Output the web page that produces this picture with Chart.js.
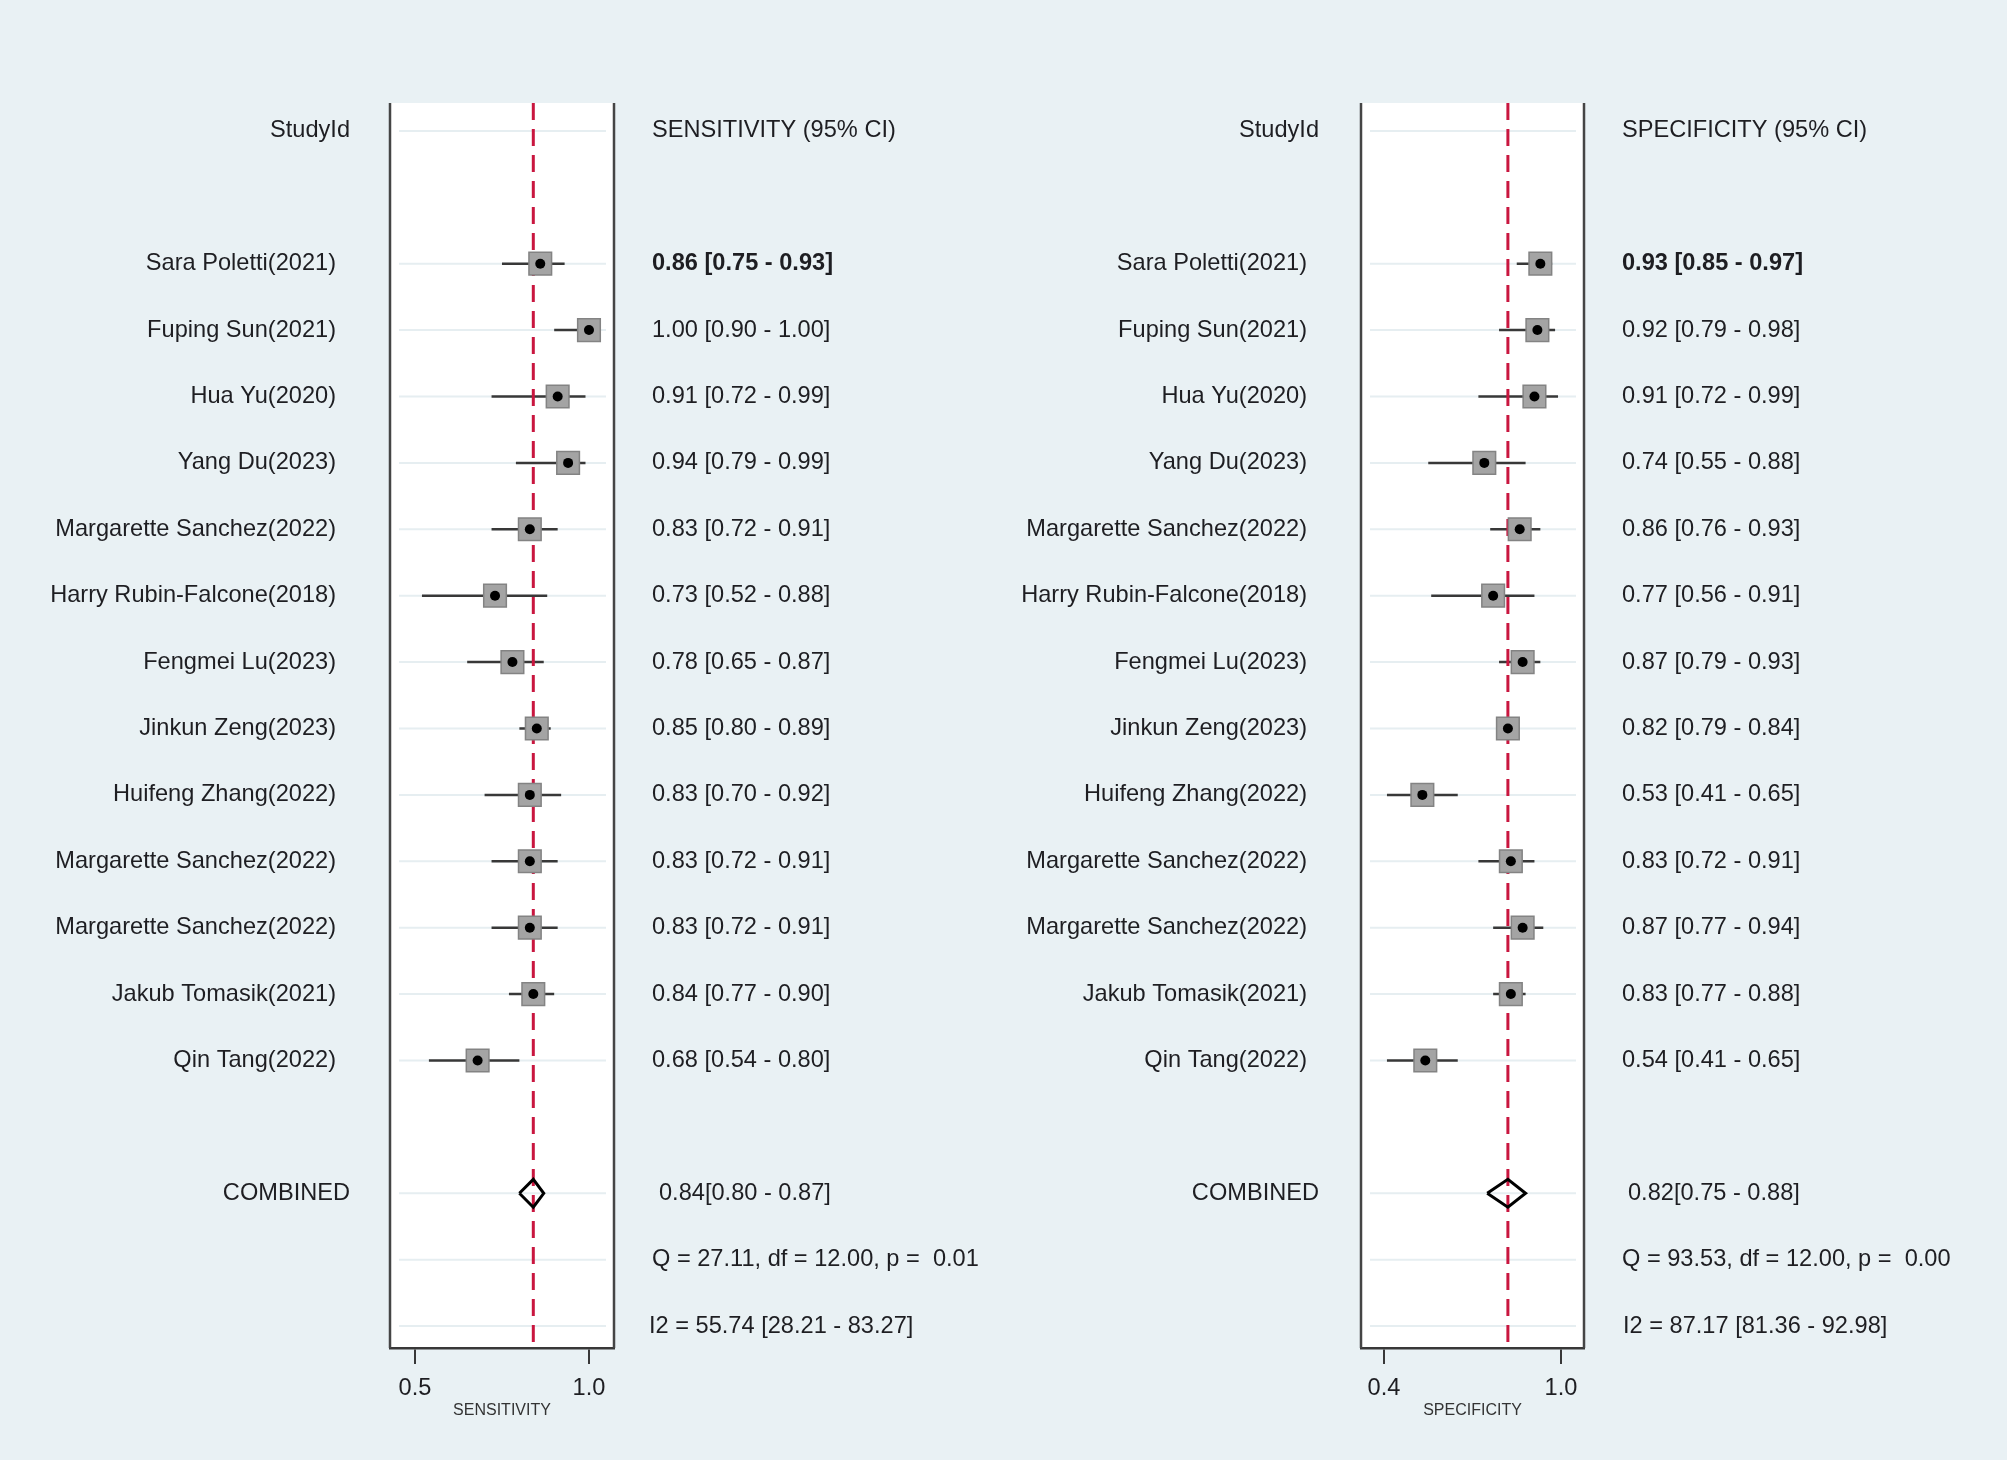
<!DOCTYPE html>
<html>
<head>
<meta charset="utf-8">
<title>Forest plot - sensitivity and specificity</title>
<script src="https://cdn.jsdelivr.net/npm/chart.js@4.4.1/dist/chart.umd.min.js"></script>
<style>
  html, body { margin: 0; padding: 0; background: #e9f1f4; }
  #page { position: relative; width: 2007px; height: 1460px; }
  .panel { position: absolute; top: 0; height: 1460px; }
  #sens-panel { left: 0; width: 1003px; }
  #spec-panel { left: 1003px; width: 1004px; }
</style>
</head>
<body>
<div id="page">
  <div class="panel" id="sens-panel"><canvas id="sens"></canvas></div>
  <div class="panel" id="spec-panel"><canvas id="spec"></canvas></div>
</div>
<script>
// study names, top to bottom
const studies = [
    'Sara Poletti(2021)', 'Fuping Sun(2021)', 'Hua Yu(2020)', 'Yang Du(2023)',
    'Margarette Sanchez(2022)', 'Harry Rubin-Falcone(2018)', 'Fengmei Lu(2023)',
    'Jinkun Zeng(2023)', 'Huifeng Zhang(2022)', 'Margarette Sanchez(2022)',
    'Margarette Sanchez(2022)', 'Jakub Tomasik(2021)', 'Qin Tang(2022)'
];

// sensitivity with 95% CI
const sensEst = [0.86, 1.00, 0.91, 0.94, 0.83, 0.73, 0.78, 0.85, 0.83, 0.83, 0.83, 0.84, 0.68];
const sensLo  = [0.75, 0.90, 0.72, 0.79, 0.72, 0.52, 0.65, 0.80, 0.70, 0.72, 0.72, 0.77, 0.54];
const sensHi  = [0.93, 1.00, 0.99, 0.99, 0.91, 0.88, 0.87, 0.89, 0.92, 0.91, 0.91, 0.90, 0.80];
const sensCombined = [0.84, 0.80, 0.87];   // estimate, lower, upper
const sensHet = ['Q = 27.11, df = 12.00, p =  0.01', 'I2 = 55.74 [28.21 - 83.27]'];
const sensTicks = [0.5, 1.0];

// specificity with 95% CI
const specEst = [0.93, 0.92, 0.91, 0.74, 0.86, 0.77, 0.87, 0.82, 0.53, 0.83, 0.87, 0.83, 0.54];
const specLo  = [0.85, 0.79, 0.72, 0.55, 0.76, 0.56, 0.79, 0.79, 0.41, 0.72, 0.77, 0.77, 0.41];
const specHi  = [0.97, 0.98, 0.99, 0.88, 0.93, 0.91, 0.93, 0.84, 0.65, 0.91, 0.94, 0.88, 0.65];
const specCombined = [0.82, 0.75, 0.88];
const specHet = ['Q = 93.53, df = 12.00, p =  0.00', 'I2 = 87.17 [81.36 - 92.98]'];
const specTicks = [0.4, 1.0];

// row layout: 0 header, 2..14 studies, 16 combined, 17 Q, 18 I2
const FIRST_ROW = 2, COMBINED_ROW = 16, Q_ROW = 17, I2_ROW = 18;
const Y_MIN = -0.42, Y_MAX = 18.33;
const FONT = '"Liberation Sans", Arial, sans-serif';
const TEXT_SIZE = '23.6px ';
const TEXT = '#1e1e22';

function fmt(est, lo, hi, gap) {
    return est.toFixed(2) + gap + '[' + lo.toFixed(2) + ' - ' + hi.toFixed(2) + ']';
}

const forestDecor = {
    id: 'forestDecor',
    beforeDraw(chart, args, o) {
        const { ctx, chartArea: a, scales: { y } } = chart;
        ctx.save();
        ctx.fillStyle = '#ffffff';
        ctx.fillRect(a.left, a.top, a.right - a.left, a.bottom - a.top);
        ctx.strokeStyle = '#e6eef1';
        ctx.lineWidth = 2;
        const rows = [0];
        studies.forEach((s, i) => rows.push(FIRST_ROW + i));
        rows.push(COMBINED_ROW, Q_ROW, I2_ROW);
        rows.forEach(r => {
            const py = y.getPixelForValue(r);
            ctx.beginPath();
            ctx.moveTo(a.left + 9, py);
            ctx.lineTo(a.right - 8, py);
            ctx.stroke();
        });
        ctx.restore();
    },
    afterDraw(chart, args, o) {
        const { ctx, chartArea: a, scales: { y } } = chart;
        ctx.save();
        // box sides
        ctx.strokeStyle = '#454545';
        ctx.lineWidth = 2.5;
        ctx.beginPath();
        ctx.moveTo(a.left, a.top); ctx.lineTo(a.left, a.bottom);
        ctx.moveTo(a.right, a.top); ctx.lineTo(a.right, a.bottom);
        ctx.stroke();

        ctx.fillStyle = TEXT;
        ctx.textBaseline = 'middle';
        ctx.font = TEXT_SIZE + FONT;

        ctx.textAlign = 'right';
        ctx.fillText('StudyId', o.headRight, y.getPixelForValue(0));
        ctx.fillText('COMBINED', o.headRight, y.getPixelForValue(COMBINED_ROW));
        studies.forEach((s, i) => ctx.fillText(s, o.nameRight, y.getPixelForValue(FIRST_ROW + i)));

        ctx.textAlign = 'left';
        ctx.fillText(o.statTitle, o.statX, y.getPixelForValue(0));
        o.est.forEach((v, i) => {
            ctx.font = (i === 0 ? 'bold ' : '') + TEXT_SIZE + FONT;
            ctx.fillText(fmt(v, o.lo[i], o.hi[i], ' '), o.statX, y.getPixelForValue(FIRST_ROW + i));
        });
        ctx.font = TEXT_SIZE + FONT;
        const c = o.combined;
        ctx.fillText(fmt(c[0], c[1], c[2], ''), o.comboX, y.getPixelForValue(COMBINED_ROW));
        ctx.fillText(o.het[0], o.statX, y.getPixelForValue(Q_ROW));
        ctx.fillText(o.het[1], o.i2X, y.getPixelForValue(I2_ROW));
        ctx.restore();
    }
};

function makeForest(id, p) {
    const datasets = [];

    // 95% CI whiskers, one small line per study
    p.est.forEach((v, i) => {
        datasets.push({
            data: [{ x: p.lo[i], y: FIRST_ROW + i }, { x: p.hi[i], y: FIRST_ROW + i }],
            showLine: true,
            borderColor: '#383838',
            borderWidth: 2.5,
            pointRadius: 0,
            order: 5
        });
    });

    // pooled estimate reference line
    datasets.push({
        data: [{ x: p.combined[0], y: Y_MIN }, { x: p.combined[0], y: Y_MAX }],
        showLine: true,
        borderColor: '#c9163f',
        borderWidth: 3,
        borderDash: [17, 9],
        pointRadius: 0,
        order: 4
    });

    // weight boxes
    datasets.push({
        data: p.est.map((v, i) => ({ x: v, y: FIRST_ROW + i })),
        pointStyle: 'rect',
        pointRadius: 16,
        backgroundColor: '#a4a4a4',
        borderColor: '#838383',
        borderWidth: 1.5,
        order: 3
    });

    // point estimates
    datasets.push({
        data: p.est.map((v, i) => ({ x: v, y: FIRST_ROW + i })),
        pointStyle: 'circle',
        pointRadius: 5,
        backgroundColor: '#000000',
        borderWidth: 0,
        order: 2
    });

    // combined diamond
    const c = p.combined, h = 0.21;
    datasets.push({
        data: [
            { x: c[1], y: COMBINED_ROW }, { x: c[0], y: COMBINED_ROW - h },
            { x: c[2], y: COMBINED_ROW }, { x: c[0], y: COMBINED_ROW + h },
            { x: c[1], y: COMBINED_ROW }
        ],
        showLine: true,
        borderColor: '#000000',
        borderWidth: 3,
        borderJoinStyle: 'miter',
        pointRadius: 0,
        fill: false,
        order: 1
    });

    const panelWidth = document.getElementById(id).parentNode.clientWidth;

    new Chart(document.getElementById(id).getContext('2d'), {
        type: 'scatter',
        data: { datasets: datasets },
        options: {
            responsive: true,
            maintainAspectRatio: false,
            animation: false,
            layout: {
                padding: { left: p.boxLeft, right: panelWidth - p.boxRight, top: 103, bottom: 0 }
            },
            scales: {
                x: {
                    type: 'linear',
                    position: 'bottom',
                    min: p.xMin,
                    max: p.xMax,
                    afterBuildTicks: scale => { scale.ticks = p.ticks.map(v => ({ value: v })); },
                    afterFit: scale => { scale.height = 112; },
                    ticks: {
                        callback: v => v.toFixed(1),
                        font: { family: FONT, size: 23.6 },
                        color: TEXT,
                        padding: 10,
                        maxRotation: 0
                    },
                    grid: { drawOnChartArea: false, drawTicks: true, tickLength: 16, color: '#383838', lineWidth: 2 },
                    border: { display: true, color: '#383838', width: 2.5 },
                    title: {
                        display: true,
                        text: p.axisTitle,
                        font: { family: FONT, size: 16 },
                        color: '#333333',
                        padding: { top: 0, bottom: 40 }
                    }
                },
                y: { type: 'linear', display: false, reverse: true, min: Y_MIN, max: Y_MAX }
            },
            plugins: {
                legend: { display: false },
                tooltip: { enabled: false },
                forestDecor: p
            }
        },
        plugins: [forestDecor]
    });
}

makeForest('sens', {
    est: sensEst, lo: sensLo, hi: sensHi, combined: sensCombined, het: sensHet, ticks: sensTicks,
    axisTitle: 'SENSITIVITY', statTitle: 'SENSITIVITY (95% CI)',
    boxLeft: 390, boxRight: 614, xMin: 0.4282, xMax: 1.0719,
    nameRight: 336, headRight: 350, statX: 652, comboX: 659, i2X: 649
});

makeForest('spec', {
    est: specEst, lo: specLo, hi: specHi, combined: specCombined, het: specHet, ticks: specTicks,
    axisTitle: 'SPECIFICITY', statTitle: 'SPECIFICITY (95% CI)',
    boxLeft: 358, boxRight: 581, xMin: 0.322, xMax: 1.078,
    nameRight: 304, headRight: 316, statX: 619, comboX: 625, i2X: 620
});
</script>
</body>
</html>
